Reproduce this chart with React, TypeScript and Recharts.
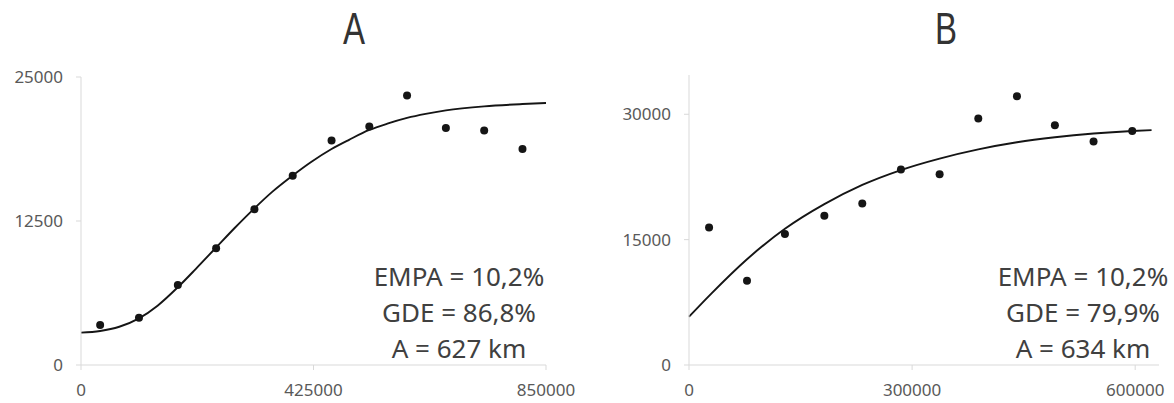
import React from 'react';
import { ComposedChart, XAxis, YAxis, Line, Scatter } from 'recharts';

// Chart A observed points
const aX = [35000, 106000, 177000, 247000, 317000, 387000, 458000, 527000, 596000, 667000, 737000, 807000];
const aY = [3480, 4110, 6950, 10140, 13530, 16420, 19490, 20710, 23400, 20570, 20360, 18740];
// Chart A fitted curve
const aFitX = [0, 35000, 70000, 106000, 140000, 177000, 210000, 247000, 280000, 317000, 350000, 387000, 420000, 458000, 490000, 527000, 560000, 596000, 630000, 667000, 737000, 807000, 850000];
const aFitY = [2810, 2950, 3320, 4050, 5150, 6750, 8350, 10200, 11850, 13600, 15050, 16450, 17600, 18750, 19550, 20400, 20950, 21450, 21800, 22100, 22450, 22650, 22740];
const aXTicks = [0, 425000, 850000];
const aYTicks = [0, 12500, 25000];

// Chart B observed points
const bX = [27000, 78000, 129000, 182000, 233000, 285000, 337000, 389000, 441000, 492000, 544000, 596000];
const bY = [16460, 10080, 15660, 17850, 19330, 23390, 22830, 29490, 32150, 28690, 26740, 28010];
// Chart B fitted curve
const bFitX = [0, 29000, 78000, 129000, 182000, 233000, 284000, 337000, 389000, 441000, 492000, 544000, 596000, 622000];
const bFitY = [5770, 8450, 12650, 16300, 19250, 21550, 23300, 24700, 25800, 26650, 27250, 27700, 28000, 28100];
const bXTicks = [0, 300000, 600000];
const bYTicks = [0, 15000, 30000];

const aStats = ['EMPA = 10,2%', 'GDE = 86,8%', 'A = 627 km'];
const bStats = ['EMPA = 10,2%', 'GDE = 79,9%', 'A = 634 km'];

const zip = (xs: number[], ys: number[]) => xs.map((x, i) => ({ x, y: ys[i] }));

const axisColor = '#d9d9d9';
const tickStyle = { fontSize: 17, fill: '#595959', fontFamily: 'Noto Sans' };

const Dot = (p: any) => <circle cx={p.cx} cy={p.cy} r={4} fill="#151515" />;

function Panel(props: {
  pts: { x: number; y: number }[];
  fit: { x: number; y: number }[];
  xDomain: [number, number];
  yDomain: [number, number];
  xTicks: number[];
  yTicks: number[];
  width: number;
  top: number;
  right: number;
  yWidth: number;
}) {
  return (
    <ComposedChart
      width={props.width}
      height={403}
      margin={{ top: props.top, right: props.right, bottom: 0, left: 0 }}
    >
      <XAxis
        type="number"
        dataKey="x"
        domain={props.xDomain}
        ticks={props.xTicks}
        height={38}
        stroke={axisColor}
        tickLine={{ stroke: axisColor }}
        tickSize={5}
        tickMargin={14}
        tick={tickStyle}
        interval={0}
      />
      <YAxis
        type="number"
        dataKey="y"
        domain={props.yDomain}
        ticks={props.yTicks}
        width={props.yWidth}
        stroke={axisColor}
        tickLine={{ stroke: axisColor }}
        tickSize={5}
        tickMargin={13}
        tick={tickStyle}
        interval={0}
      />
      <Line
        data={props.fit}
        dataKey="y"
        type="monotone"
        stroke="#151515"
        strokeWidth={1.9}
        dot={false}
        isAnimationActive={false}
      />
      <Scatter data={props.pts} dataKey="y" shape={Dot} isAnimationActive={false} />
    </ComposedChart>
  );
}

const statStyle = (left: number): React.CSSProperties => ({
  position: 'absolute',
  left,
  top: 258,
  width: 220,
  textAlign: 'center',
  fontFamily: 'Noto Sans',
  fontSize: 26,
  lineHeight: '36px',
  color: '#404040',
});

const titleStyle = (center: number): React.CSSProperties => ({
  position: 'absolute',
  left: center - 50,
  top: 3,
  width: 100,
  textAlign: 'center',
  fontFamily: 'Liberation Sans',
  fontSize: 44,
  lineHeight: '52px',
  color: '#333333',
  transform: 'scaleX(0.75)',
  transformOrigin: 'center',
});

export default function App() {
  return (
    <div style={{ position: 'absolute', left: 0, top: 0, width: 1174, height: 403, background: '#ffffff', overflow: 'hidden' }}>
      <div style={{ position: 'absolute', left: 0, top: 0 }}>
        <Panel
          pts={zip(aX, aY)}
          fit={zip(aFitX, aFitY)}
          xDomain={[0, 850000]}
          yDomain={[0, 25000]}
          xTicks={aXTicks}
          yTicks={aYTicks}
          width={580}
          top={77}
          right={34}
          yWidth={81}
        />
      </div>
      <div style={{ position: 'absolute', left: 590, top: 0 }}>
        <Panel
          pts={zip(bX, bY)}
          fit={zip(bFitX, bFitY)}
          xDomain={[0, 632000]}
          yDomain={[0, 34700]}
          xTicks={bXTicks}
          yTicks={bYTicks}
          width={584}
          top={75}
          right={15}
          yWidth={99}
        />
      </div>
      <div style={titleStyle(354)}>A</div>
      <div style={titleStyle(946)}>B</div>
      <div style={statStyle(349)}>
        {aStats.map((s) => (
          <div key={s}>{s}</div>
        ))}
      </div>
      <div style={statStyle(973)}>
        {bStats.map((s) => (
          <div key={s}>{s}</div>
        ))}
      </div>
    </div>
  );
}
